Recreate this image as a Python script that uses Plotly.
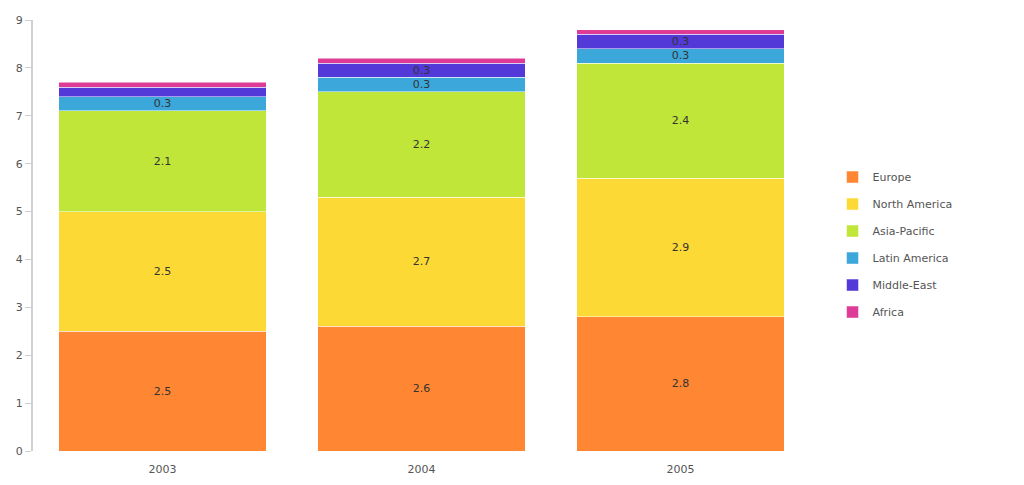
import plotly.graph_objects as go

years = ["2003", "2004", "2005"]
series_names = ["Europe", "North America", "Asia-Pacific", "Latin America", "Middle-East", "Africa"]
europe = [2.5, 2.6, 2.8]
north_america = [2.5, 2.7, 2.9]
asia_pacific = [2.1, 2.2, 2.4]
latin_america = [0.3, 0.3, 0.3]
middle_east = [0.2, 0.3, 0.3]
africa = [0.1, 0.1, 0.1]
series_values = [europe, north_america, asia_pacific, latin_america, middle_east, africa]
colors = ["#FF8632", "#FDD935", "#C1E63A", "#3BA7DB", "#5439D9", "#DD3B95"]

fig = go.Figure()
for name, vals, col in zip(series_names, series_values, colors):
    labels = [f"{v:g}" if v >= 0.3 else "" for v in vals]
    fig.add_trace(go.Bar(
        x=years, y=vals, name=name, legendgroup=name,
        marker=dict(color=col, line=dict(color="white", width=0.5)),
        text=labels, textposition="inside", insidetextanchor="middle",
        textangle=0, constraintext="none",
        textfont=dict(family="DejaVu Sans, Verdana, sans-serif", size=11, color="#333333"),
        hoverinfo="x+y+name",
    ))

fig.update_layout(
    barmode="stack",
    bargap=0.2,
    width=1008, height=469,
    margin=dict(l=25, r=206, t=12, b=26, autoexpand=False),
    paper_bgcolor="white", plot_bgcolor="white",
    font=dict(family="DejaVu Sans, Verdana, sans-serif", size=11, color="#555555"),
    legend=dict(x=1.029, y=0.479, xanchor="left", yanchor="middle",
                traceorder="grouped", tracegroupgap=8,
                font=dict(size=11, color="#555555")),
    xaxis=dict(showline=False, showgrid=False, zeroline=False, automargin=False,
               ticks="outside", ticklen=8, tickcolor="rgba(0,0,0,0)",
               tickfont=dict(size=11, color="#555555")),
    yaxis=dict(range=[0, 9], dtick=1, showgrid=False, zeroline=False, automargin=False,
               showline=True, linecolor="#d0d0d0", linewidth=2,
               ticks="outside", ticklen=6, tickcolor="#d0d0d0", tickwidth=1,
               tickfont=dict(size=11, color="#555555")),
)

fig.write_html("out.html")
